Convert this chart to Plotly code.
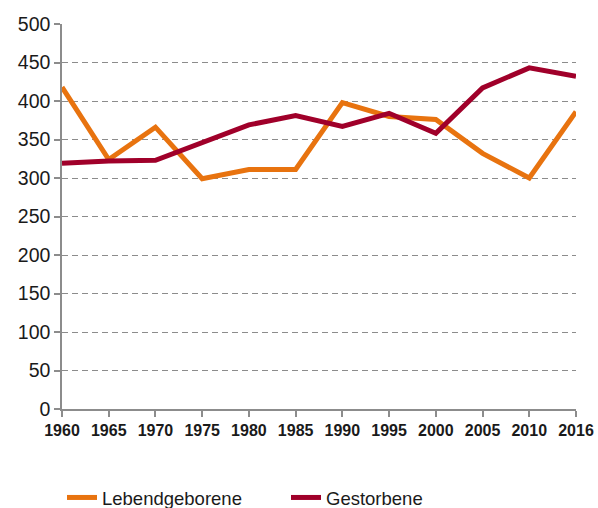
import plotly.graph_objects as go

years = ["1960", "1965", "1970", "1975", "1980", "1985", "1990", "1995", "2000", "2005", "2010", "2016"]
lebendgeborene = [418, 324, 366, 299, 311, 311, 398, 380, 376, 332, 300, 386]
gestorbene = [319, 322, 323, 346, 369, 381, 367, 384, 358, 417, 443, 432]
y_ticks = [0, 50, 100, 150, 200, 250, 300, 350, 400, 450, 500]

fig = go.Figure()
fig.add_trace(go.Scatter(x=years, y=lebendgeborene, mode="lines", name="Lebendgeborene",
                         line=dict(color="#E8730F", width=5)))
fig.add_trace(go.Scatter(x=years, y=gestorbene, mode="lines", name="Gestorbene",
                         line=dict(color="#A0002A", width=5)))

fig.update_layout(
    width=598, height=508,
    margin=dict(l=62, r=22, t=24, b=99, autoexpand=False),
    plot_bgcolor="white", paper_bgcolor="white",
    font=dict(family="Liberation Sans, Arial, sans-serif", size=17, color="#1a1a1a"),
    showlegend=True,
    legend=dict(orientation="h", x=0.0, xanchor="left", y=-0.231, yanchor="middle",
                font=dict(size=18.5, color="#1a1a1a"), entrywidth=179, entrywidthmode="pixels",
                tracegroupgap=0),
    xaxis=dict(type="category", range=[0, 11], showgrid=False,
               showline=True, linecolor="#8c8c8c", linewidth=1.5,
               ticks="outside", ticklen=6, tickcolor="#8c8c8c", tickwidth=1.5,
               tickfont=dict(family="Liberation Sans, Arial, sans-serif", size=16,
                             color="#1a1a1a", weight="bold"),
               fixedrange=True),
    yaxis=dict(range=[0, 500], tickvals=y_ticks, showgrid=True, gridcolor="#8c8c8c",
               griddash="6px,4px", gridwidth=1, zeroline=False,
               showline=True, linecolor="#8c8c8c", linewidth=1.5,
               ticks="outside", ticklen=6, tickcolor="#8c8c8c", tickwidth=1.5,
               tickfont=dict(size=19.5, color="#1a1a1a"), fixedrange=True),
)

fig.write_html("out.html", config={"displayModeBar": False})

with open("out.html", encoding="utf-8") as f:
    html = f.read()
html = html.replace("<head>", "<head><style>html,body{margin:0;padding:0;overflow:hidden;}</style>", 1)
with open("out.html", "w", encoding="utf-8") as f:
    f.write(html)
